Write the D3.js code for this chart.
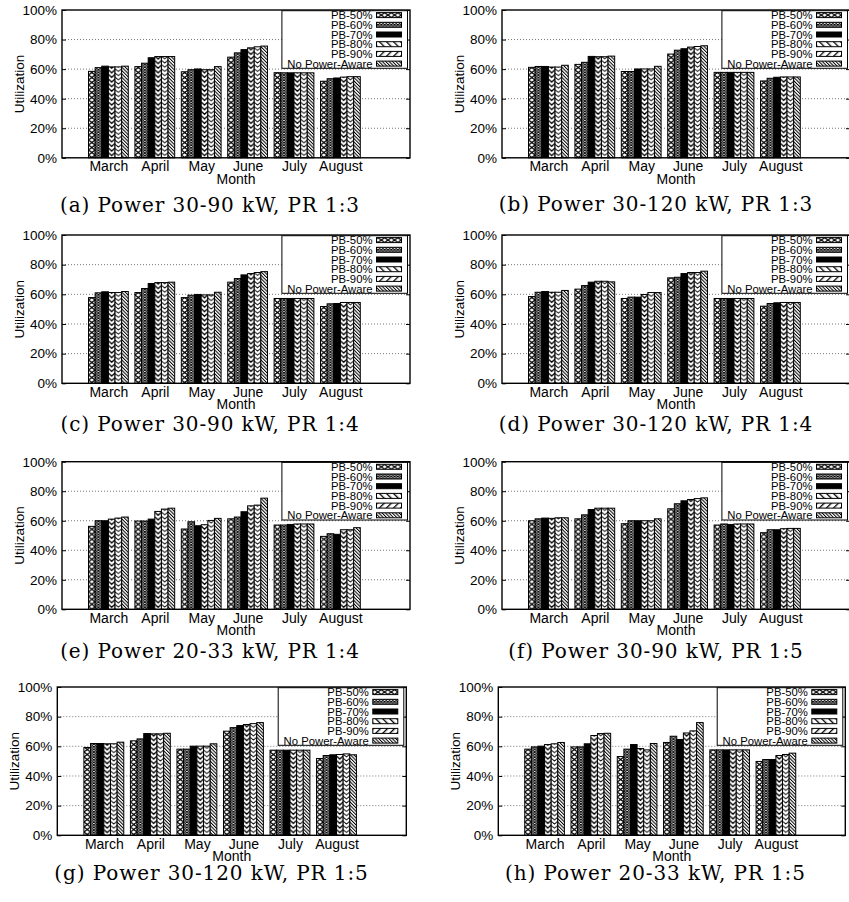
<!DOCTYPE html>
<html lang="en">
<head>
<meta charset="utf-8">
<style>
  body { margin: 0; background: #fff; }
  text { font-family: "Liberation Sans", Arial, sans-serif; }
  .caption { font-family: "DejaVu Serif", serif; }
</style>
</head>
<body>
<div id="viz"></div>
<script src="https://cdn.jsdelivr.net/npm/d3@7"></script>
<script>

var W = 849, H = 902;

var months = ["March", "April", "May", "June", "July", "August"];
var series = ["PB-50%", "PB-60%", "PB-70%", "PB-80%", "PB-90%", "No Power-Aware"];
var yTicks = [0, 20, 40, 60, 80, 100];

// utilization (%) per month, one value per series
var utilA = [
  [58.5, 61.0, 62.0, 61.5, 61.5, 62.0],
  [61.7, 64.0, 67.7, 68.5, 68.5, 68.5],
  [58.2, 59.6, 60.1, 59.6, 59.6, 61.7],
  [68.1, 71.0, 73.2, 74.4, 75.1, 75.6],
  [57.6, 57.5, 57.5, 57.5, 57.5, 57.5],
  [51.8, 53.5, 54.0, 54.6, 54.9, 54.9]
];
var utilB = [
  [61.2, 61.8, 61.8, 61.4, 61.4, 62.6],
  [63.2, 64.6, 68.6, 68.4, 68.4, 68.8],
  [58.4, 58.4, 60.1, 60.1, 60.1, 61.9],
  [70.2, 72.8, 73.8, 74.9, 75.3, 75.8],
  [57.8, 57.8, 57.8, 57.8, 57.8, 57.8],
  [52.0, 53.8, 54.5, 54.7, 54.7, 54.7]
];
var utilC = [
  [57.8, 61.0, 61.7, 61.2, 61.2, 61.9],
  [61.2, 63.9, 67.3, 67.9, 67.9, 68.2],
  [57.8, 59.4, 59.9, 59.6, 59.6, 61.4],
  [68.2, 70.6, 73.1, 74.0, 74.7, 75.3],
  [57.2, 57.2, 57.2, 57.2, 57.2, 57.2],
  [51.8, 53.6, 53.8, 54.5, 54.5, 54.5]
];
var utilD = [
  [58.5, 61.4, 61.9, 61.4, 61.4, 62.6],
  [63.5, 65.9, 68.2, 68.8, 68.8, 68.4],
  [57.2, 58.1, 58.1, 59.9, 61.2, 61.2],
  [71.1, 71.5, 74.0, 74.7, 74.7, 75.6],
  [57.2, 57.2, 57.2, 57.2, 57.2, 57.2],
  [52.0, 53.8, 54.3, 54.5, 54.5, 54.5]
];
var utilE = [
  [56.2, 60.0, 60.0, 61.1, 61.8, 62.5],
  [59.8, 59.8, 61.1, 66.3, 67.9, 68.5],
  [54.4, 59.3, 56.6, 57.3, 60.2, 61.6],
  [61.3, 62.5, 66.1, 70.1, 70.6, 75.3],
  [57.1, 57.1, 57.5, 57.8, 57.8, 57.8],
  [49.4, 51.2, 50.8, 53.9, 53.9, 55.3]
];
var utilF = [
  [60.0, 61.3, 61.8, 61.6, 62.0, 62.0],
  [61.3, 64.0, 67.6, 68.5, 68.5, 68.5],
  [58.0, 60.0, 60.0, 60.0, 60.0, 61.3],
  [68.1, 71.5, 73.5, 74.4, 75.0, 75.5],
  [57.1, 57.8, 57.5, 57.8, 57.8, 57.8],
  [51.9, 53.9, 53.9, 54.6, 54.8, 54.8]
];
var utilG = [
  [59.2, 61.9, 61.9, 61.7, 61.7, 62.8],
  [63.7, 65.0, 68.6, 68.4, 68.4, 68.8],
  [58.1, 58.1, 60.1, 60.1, 60.1, 61.7],
  [70.2, 72.6, 74.0, 74.7, 75.3, 76.0],
  [57.4, 57.4, 57.4, 57.4, 57.4, 57.4],
  [51.8, 53.8, 54.3, 54.5, 54.9, 54.3]
];
var utilH = [
  [58.1, 59.6, 60.1, 61.2, 61.7, 62.6],
  [59.6, 59.6, 61.7, 67.3, 68.6, 68.8],
  [53.1, 58.1, 61.2, 58.5, 57.6, 61.9],
  [62.6, 66.8, 64.6, 69.0, 70.4, 76.0],
  [57.6, 57.6, 57.6, 57.6, 57.6, 57.6],
  [49.8, 51.1, 51.1, 53.8, 54.5, 55.4]
];

var captions = [
  "(a) Power 30-90 kW, PR 1:3", "(b) Power 30-120 kW, PR 1:3",
  "(c) Power 30-90 kW, PR 1:4", "(d) Power 30-120 kW, PR 1:4",
  "(e) Power 20-33 kW, PR 1:4", "(f) Power 30-90 kW, PR 1:5",
  "(g) Power 30-120 kW, PR 1:5", "(h) Power 20-33 kW, PR 1:5"
];
var panelData = [utilA, utilB, utilC, utilD, utilE, utilF, utilG, utilH];

// plot frames, measured off the page
var layout = [
  {left: 62,  top: 10,  w: 348, h: 147.8, capX: 210, capY: 211.5},
  {left: 502, top: 10,  w: 348, h: 147.8, capX: 656, capY: 211},
  {left: 62,  top: 235, w: 348, h: 148.3, capX: 210, capY: 430.5},
  {left: 502, top: 235, w: 348, h: 148.3, capX: 656, capY: 430.5},
  {left: 62,  top: 461.7, w: 348, h: 147.6, capX: 210, capY: 658},
  {left: 502, top: 461.7, w: 348, h: 147.6, capX: 656, capY: 658},
  {left: 57.3, top: 687, w: 349, h: 148.3, capX: 211.5, capY: 880},
  {left: 498.3, top: 687, w: 347, h: 148.3, capX: 655.5, capY: 880}
];

var svg = d3.select("#viz")
  .append("svg")
  .attr("width", W)
  .attr("height", H);

svg.append("rect").attr("width", W).attr("height", H).attr("fill", "#fff");

var defs = svg.append("defs");

// bar fill patterns, tile width = bar width so every bar looks the same
function makeBarPatterns(key, bw){
  var ids = [];
  var p;
  // PB-50: big crosshatch with white diamonds
  p = defs.append("pattern").attr("id", "p0" + key)
    .attr("patternUnits", "userSpaceOnUse").attr("width", bw).attr("height", 5);
  p.append("rect").attr("width", bw).attr("height", 5).attr("fill", "#fff");
  p.append("path").attr("d", "M0,0L" + bw + ",5M" + bw + ",0L0,5")
    .attr("stroke", "#000").attr("stroke-width", 1.3);
  // PB-60: fine crosshatch
  p = defs.append("pattern").attr("id", "p1" + key)
    .attr("patternUnits", "userSpaceOnUse").attr("width", bw / 2).attr("height", 2.6);
  p.append("rect").attr("width", bw / 2).attr("height", 2.6).attr("fill", "#fff");
  p.append("path").attr("d", "M0,0L" + (bw / 2) + ",2.6M" + (bw / 2) + ",0L0,2.6")
    .attr("stroke", "#000").attr("stroke-width", 0.9);
  // PB-80 / PB-90: chevrons
  [["p3", 4.6, 3, 1.3], ["p4", 4.2, 2.6, 1.0]].forEach(function(c){
    p = defs.append("pattern").attr("id", c[0] + key)
      .attr("patternUnits", "userSpaceOnUse").attr("width", bw).attr("height", c[1]);
    p.append("rect").attr("width", bw).attr("height", c[1]).attr("fill", "#fff");
    p.append("path")
      .attr("d", "M0,0L" + (bw / 2) + "," + c[2] + "L" + bw + ",0" +
                 "M0," + c[1] + "L" + (bw / 2) + "," + (c[1] + c[2]) + "L" + bw + "," + c[1] +
                 "M0," + (-c[1]) + "L" + (bw / 2) + "," + (c[2] - c[1]) + "L" + bw + "," + (-c[1]))
      .attr("fill", "none").attr("stroke", "#000").attr("stroke-width", c[3]);
  });
  return ["url(#p0" + key + ")", "url(#p1" + key + ")", "#000",
          "url(#p3" + key + ")", "url(#p4" + key + ")", "url(#stripeDense)"];
}

function stripes(id, period, width, angle){
  var p = defs.append("pattern").attr("id", id)
    .attr("patternUnits", "userSpaceOnUse")
    .attr("width", period).attr("height", 10)
    .attr("patternTransform", "rotate(" + angle + ")");
  p.append("rect").attr("width", period).attr("height", 10).attr("fill", "#fff");
  p.append("rect").attr("width", width).attr("height", 10).attr("fill", "#000");
}
stripes("stripeDense", 2.4, 1, -45);
stripes("stripeBack", 5, 1.3, -45);
stripes("stripeFwd", 5, 1.3, 45);

function drawPanel(i){
  var L = layout[i], data = panelData[i];
  var g = svg.append("g").attr("transform", "translate(" + L.left + "," + L.top + ")");

  var x = d3.scaleLinear().domain([-1, 6.5]).range([0, L.w]);
  var y = d3.scaleLinear().domain([0, 100]).range([L.h, 0]);
  var bw = x(1) - x(0);
  var barW = bw / 7;
  var fills = makeBarPatterns(i, barW);

  // grid
  g.append("g").selectAll("line")
    .data(yTicks.filter(function(d){ return d > 0 && d < 100; }))
    .enter().append("line")
    .attr("x1", 0).attr("x2", L.w)
    .attr("y1", function(d){ return y(d); }).attr("y2", function(d){ return y(d); })
    .attr("stroke", "#777").attr("stroke-width", 1).attr("stroke-dasharray", "1,2");

  // bars
  var groups = g.append("g").selectAll("g.month")
    .data(data).enter().append("g").attr("class", "month");
  groups.selectAll("g.bar")
    .data(function(d, m){ return d.map(function(v, s){ return {m: m, s: s, v: v}; }); })
    .enter().append("g").attr("class", "bar")
    .attr("transform", function(d){ return "translate(" + x(d.m - 3 / 7 + d.s / 7) + ",0)"; })
    .append("rect")
    .attr("x", 0).attr("width", barW)
    .attr("y", function(d){ return y(d.v); })
    .attr("height", function(d){ return y(0) - y(d.v); })
    .attr("fill", function(d){ return fills[d.s]; })
    .attr("stroke", "#000").attr("stroke-width", 1);

  // y axis
  var ya = g.append("g")
    .call(d3.axisLeft(y).tickValues(yTicks).tickFormat(function(d){ return d + "%"; })
      .tickSize(-4).tickPadding(5));
  ya.select(".domain").remove();
  ya.selectAll("text").attr("font-size", "13.5px").attr("font-family", null).attr("fill", "#000");
  var yr = g.append("g").attr("transform", "translate(" + L.w + ",0)")
    .call(d3.axisRight(y).tickValues(yTicks).tickFormat("").tickSize(-4));
  yr.select(".domain").remove();

  // x axis
  var xa = g.append("g").attr("transform", "translate(0," + L.h + ")")
    .call(d3.axisBottom(x).tickValues(d3.range(months.length))
      .tickFormat(function(d){ return months[d]; }).tickSize(0).tickPadding(3.6));
  xa.select(".domain").remove();
  xa.selectAll("text").attr("font-size", "14px").attr("font-family", null).attr("fill", "#000");

  // frame
  g.append("rect").attr("width", L.w).attr("height", L.h)
    .attr("fill", "none").attr("stroke", "#000").attr("stroke-width", 1.4);

  // legend
  var lw = 125.6, lh = 57.6;
  var lx = L.w - 2.5 - lw, ly = 0.7;
  var leg = g.append("g").attr("transform", "translate(" + lx + "," + ly + ")");
  leg.append("rect").attr("width", lw).attr("height", lh)
    .attr("fill", "#fff").attr("stroke", "#000").attr("stroke-width", 1);
  var legFills = [fills[0], fills[1], "#000", "url(#stripeBack)", "url(#stripeFwd)", "url(#stripeDense)"];
  var rows = leg.selectAll("g.row").data(series).enter().append("g").attr("class", "row")
    .attr("transform", function(d, k){ return "translate(0," + (4.4 + k * 9.7) + ")"; });
  rows.append("text")
    .attr("x", lw - 35).attr("y", 0).attr("dy", "0.36em")
    .attr("text-anchor", "end").attr("font-size", "11.3px")
    .text(function(d){ return d; });
  rows.append("rect")
    .attr("x", lw - 31).attr("y", -2.5).attr("width", 25).attr("height", 5)
    .attr("fill", function(d, k){ return legFills[k]; })
    .attr("stroke", "#000").attr("stroke-width", 1);

  // axis titles
  g.append("text")
    .attr("transform", "translate(" + (-43) + "," + (L.h / 2) + ") rotate(-90)")
    .attr("text-anchor", "middle").attr("dy", "0.36em")
    .attr("font-size", "13.5px")
    .text("Utilization");
  g.append("text")
    .attr("x", L.w / 2).attr("y", L.h + 26)
    .attr("text-anchor", "middle").attr("font-size", "14px")
    .text("Month");

  // caption
  svg.append("text").attr("class", "caption")
    .attr("x", L.capX).attr("y", L.capY)
    .attr("text-anchor", "middle")
    .attr("font-size", "20px").attr("letter-spacing", "0.9px")
    .text(captions[i]);
}

d3.range(panelData.length).forEach(drawPanel);

</script>
</body>
</html>
